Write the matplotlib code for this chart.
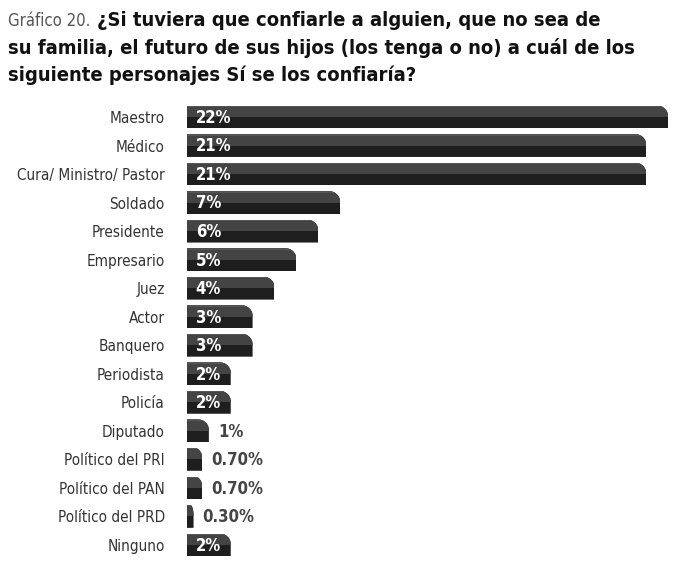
import matplotlib
matplotlib.use("Agg")
import matplotlib.pyplot as plt
from matplotlib.path import Path
from matplotlib.patches import PathPatch

categories = ["Maestro", "Médico", "Cura/ Ministro/ Pastor", "Soldado", "Presidente",
              "Empresario", "Juez", "Actor", "Banquero", "Periodista", "Policía",
              "Diputado", "Político del PRI", "Político del PAN", "Político del PRD", "Ninguno"]
values = [22, 21, 21, 7, 6, 5, 4, 3, 3, 2, 2, 1, 0.7, 0.7, 0.3, 2]
value_labels = ["22%", "21%", "21%", "7%", "6%", "5%", "4%", "3%", "3%", "2%", "2%",
                "1%", "0.70%", "0.70%", "0.30%", "2%"]

W, H = 676, 567
fig = plt.figure(figsize=(W / 100, H / 100), dpi=100)
fig.patch.set_facecolor("white")

ax_left = 187 / W
ax_right = 668 / W
ax_top = 1 - 102.75 / H
ax_bot = 1 - 559.25 / H
ax = fig.add_axes([ax_left, ax_bot, ax_right - ax_left, ax_top - ax_bot])

y = list(range(len(categories)))
h = 0.8
dark = ax.barh(y, values, height=h, color="#1e1e1e", edgecolor="none")
light = ax.barh([yy - h / 4 for yy in y], values, height=h / 2, color="#444444", edgecolor="none")
hl = ax.barh([yy - h / 2 + 0.025 for yy in y], values, height=0.05, color="#555555", edgecolor="none")

ax.set_xlim(0, 22)
ax.set_ylim(len(categories) - 0.5, -0.5)

# rounded top-right corner clip path built from each bar's own geometry
k = 0.55
for i, bar in enumerate(dark):
    x0 = bar.get_x()
    x1 = x0 + bar.get_width()
    yt = bar.get_y()
    yb = yt + bar.get_height()
    rx = min(0.5, bar.get_width() * 0.5)
    ry = 0.36
    verts = [(x0, yb), (x0, yt), (x1 - rx, yt),
             (x1 - rx + rx * k, yt), (x1, yt + ry - ry * k), (x1, yt + ry),
             (x1, yb), (x0, yb)]
    codes = [Path.MOVETO, Path.LINETO, Path.LINETO,
             Path.CURVE4, Path.CURVE4, Path.CURVE4,
             Path.LINETO, Path.CLOSEPOLY]
    clip = PathPatch(Path(verts, codes), transform=ax.transData, facecolor="none", edgecolor="none")
    ax.add_patch(clip)
    for p in (bar, light[i], hl[i]):
        p.set_clip_path(clip)

for yy, v, lab in zip(y, values, value_labels):
    if v >= 2:
        ax.text(0.4, yy + 0.03, lab, color="white", fontsize=12, fontweight="bold",
                fontstretch="condensed", va="center", ha="left")
    else:
        ax.text(v + 0.42, yy + 0.03, lab, color="#444444",
                fontsize=12, fontweight="bold", fontstretch="condensed",
                va="center", ha="left")

ax.set_yticks(y)
ax.set_yticklabels(categories, fontsize=11, color="#333333", fontstretch="condensed")
ax.tick_params(axis="y", length=0, pad=16)
ax.set_xticks([])
for s in ax.spines.values():
    s.set_visible(False)

# title
t0 = fig.text(8 / W, 1 - 21 / H, "Gráfico 20.", fontsize=12, color="#555555",
              fontstretch="condensed", va="center", ha="left")
fig.canvas.draw()
bb = t0.get_window_extent()
fig.text((bb.x1 + 7) / W, 1 - 21 / H, "¿Si tuviera que confiarle a alguien, que no sea de",
         fontsize=14.5, fontweight="bold", color="#111111", fontstretch="condensed",
         va="center", ha="left")
fig.text(8 / W, 1 - 48 / H, "su familia, el futuro de sus hijos (los tenga o no) a cuál de los",
         fontsize=14.5, fontweight="bold", color="#111111", fontstretch="condensed",
         va="center", ha="left")
fig.text(8 / W, 1 - 75 / H, "siguiente personajes Sí se los confiaría?",
         fontsize=14.5, fontweight="bold", color="#111111", fontstretch="condensed",
         va="center", ha="left")

fig.savefig("out.png", dpi=100, facecolor="white")
